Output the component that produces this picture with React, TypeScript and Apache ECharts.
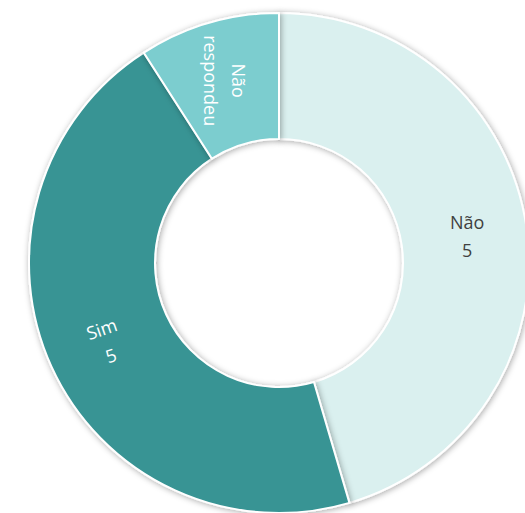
import React, { useEffect, useRef } from "react";
import * as echarts from "echarts";

const categories = ["Não", "Sim", "Não respondeu"];
const values = [5, 5, 1];
const labelTexts = ["Não\n5", "Sim\n5", "Não\nrespondeu"];
const colors = ["#daf0ef", "#379494", "#7ccdcf"];
const labelColors = ["#404040", "#ffffff", "#ffffff"];
const labelRotations = [0, 19, -90];

export default function App() {
  const ref = useRef<HTMLDivElement>(null);
  useEffect(() => {
    if (!ref.current) return;
    const chart = echarts.init(ref.current, undefined, { renderer: "svg" });
    chart.setOption({
      animation: false,
      series: [
        {
          type: "pie",
          center: [279, 263],
          radius: [124, 250],
          startAngle: 90,
          clockwise: true,
          silent: true,
          itemStyle: {
            borderColor: "#ffffff",
            borderWidth: 2,
            shadowBlur: 6,
            shadowColor: "rgba(0,0,0,0.35)",
            shadowOffsetX: 1,
            shadowOffsetY: 1,
          },
          label: {
            position: "inside",
            fontFamily: "Open Sans",
            fontSize: 18,
            lineHeight: 28,
            align: "center",
          },
          labelLine: { show: false },
          data: categories.map((c, i) => ({
            name: c,
            value: values[i],
            itemStyle: { color: colors[i] },
            label: {
              formatter: labelTexts[i],
              color: labelColors[i],
              rotate: labelRotations[i],
            },
          })),
        },
      ],
    });
    return () => chart.dispose();
  }, []);
  return (
    <div
      ref={ref}
      style={{ position: "fixed", left: 0, top: 0, width: 525, height: 513, background: "#ffffff" }}
    />
  );
}
